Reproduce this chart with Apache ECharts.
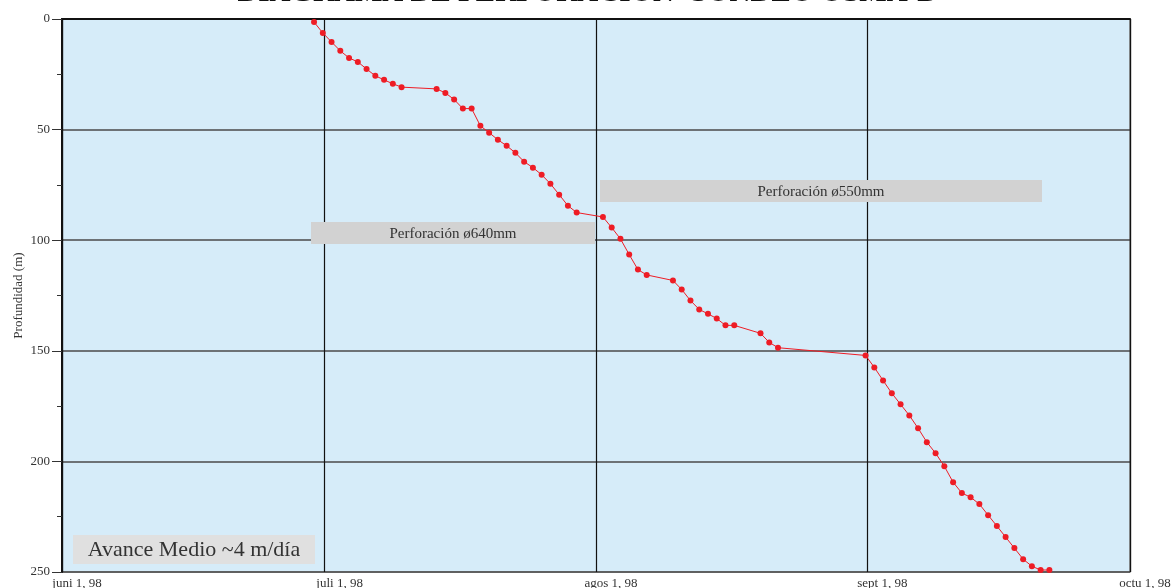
<!DOCTYPE html>
<html>
<head>
<meta charset="utf-8">
<title>Diagrama de perforación - Sondeo OSMA-B</title>
<script src="https://cdn.jsdelivr.net/npm/echarts@6/dist/echarts.min.js"></script>
<style>
  html, body { margin: 0; padding: 0; background: #ffffff; }
  #chart { width: 1174px; height: 588px; }
</style>
</head>
<body>
<div id="chart"></div>
<script>
// Drilling progress of borehole OSMA-B (depth in metres per day)
const fechas = [
  '1998-06-29', '1998-06-30', '1998-07-01', '1998-07-02', '1998-07-03', '1998-07-04',
  '1998-07-05', '1998-07-06', '1998-07-07', '1998-07-08', '1998-07-09', '1998-07-13',
  '1998-07-14', '1998-07-15', '1998-07-16', '1998-07-17', '1998-07-18', '1998-07-19',
  '1998-07-20', '1998-07-21', '1998-07-22', '1998-07-23', '1998-07-24', '1998-07-25',
  '1998-07-26', '1998-07-27', '1998-07-28', '1998-07-29', '1998-08-01', '1998-08-02',
  '1998-08-03', '1998-08-04', '1998-08-05', '1998-08-06', '1998-08-09', '1998-08-10',
  '1998-08-11', '1998-08-12', '1998-08-13', '1998-08-14', '1998-08-15', '1998-08-16',
  '1998-08-19', '1998-08-20', '1998-08-21', '1998-08-31', '1998-09-01', '1998-09-02',
  '1998-09-03', '1998-09-04', '1998-09-05', '1998-09-06', '1998-09-07', '1998-09-08',
  '1998-09-09', '1998-09-10', '1998-09-11', '1998-09-12', '1998-09-13', '1998-09-14',
  '1998-09-15', '1998-09-16', '1998-09-17', '1998-09-18', '1998-09-19', '1998-09-20',
  '1998-09-21'
];
// time of day at which each daily reading was taken
const horaLectura = '19:00';

const profundidad = [
  1.4, 6.3, 10.4, 14.4, 17.6, 19.4,
  22.6, 25.7, 27.5, 29.3, 30.8, 31.6,
  33.4, 36.4, 40.5, 40.5, 48.3, 51.4,
  54.6, 57.3, 60.5, 64.5, 67.2, 70.4,
  74.5, 79.4, 84.4, 87.5, 89.5, 94.3,
  99.4, 106.5, 113.3, 115.7, 118.2, 122.3,
  127.3, 131.3, 133.3, 135.4, 138.5, 138.5,
  142.1, 146.2, 148.6, 152.1, 157.5, 163.4,
  169.2, 174.2, 179.2, 185.0, 191.3, 196.3,
  202.2, 209.4, 214.3, 216.2, 219.3, 224.3,
  229.2, 234.2, 239.2, 244.2, 247.4, 249.1,
  249.1
];

// month tick labels on the time axis (index = month number)
const etiquetasMes = {5: 'juni 1, 98', 6: 'juli 1, 98', 7: 'agos 1, 98', 8: 'sept 1, 98', 9: 'octu 1, 98'};
const ejeInicio = '1998-06-01';
const ejeFin = '1998-10-01';

const titulo = 'DIAGRAMA DE PERFORACIÓN- SONDEO OSMA-B';
const tituloEjeY = 'Profundidad (m)';
const notaAvance = 'Avance Medio ~4 m/día';
const tramos = ['Perforación ø640mm', 'Perforación ø550mm'];

const serif = "'Liberation Serif', 'Times New Roman', 'DejaVu Serif', serif";
const DAY = 86400000;

const puntos = fechas.map((f, i) => [f + ' ' + horaLectura, profundidad[i]]);

function caja(x, y, w, h, texto, fill, size) {
  return {
    type: 'group',
    children: [
      { type: 'rect', shape: { x: x, y: y, width: w, height: h }, style: { fill: fill }, z: 10 },
      {
        type: 'text', x: x + w / 2, y: y + h / 2 + 1, z: 11,
        style: { text: texto, fill: '#333333', font: size + 'px ' + serif, textAlign: 'center', textVerticalAlign: 'middle' }
      }
    ]
  };
}

const chart = echarts.init(document.getElementById('chart'), null, { renderer: 'canvas' });

chart.setOption({
  backgroundColor: '#ffffff',
  animation: false,
  title: {
    text: titulo,
    left: 'center',
    top: -26,
    textStyle: { fontFamily: serif, fontWeight: 'bold', fontSize: 29, color: '#111111' }
  },
  grid: {
    left: 62, right: 44, top: 19, bottom: 16,
    outerBoundsMode: 'none',
    containLabel: false,
    show: true,
    backgroundColor: '#D6ECF9',
    borderColor: '#8a8a8a',
    borderWidth: 1.5
  },
  xAxis: {
    type: 'time',
    min: ejeInicio,
    max: ejeFin,
    minInterval: 28 * DAY,
    maxInterval: 31 * DAY,
    axisLine: { show: true, lineStyle: { color: '#111111', width: 2 } },
    axisTick: { show: true, inside: false, length: 11, lineStyle: { color: '#111111', width: 1 } },
    axisLabel: {
      show: true,
      margin: 5,
      fontFamily: serif,
      fontSize: 13,
      color: '#333333',
      align: 'center',
      padding: [0, 0, 0, 30],
      showMinLabel: true,
      showMaxLabel: true,
      hideOverlap: false,
      formatter: function (v) {
        const d = new Date(v);
        return etiquetasMes[d.getMonth()] || '';
      }
    },
    splitLine: { show: true, lineStyle: { color: '#111111', width: 1.2 } },
    minorTick: { show: false }
  },
  yAxis: {
    type: 'value',
    inverse: true,
    min: 0,
    max: 250,
    interval: 50,
    name: tituloEjeY,
    nameLocation: 'middle',
    nameGap: 37,
    nameMoveOverlap: false,
    nameRotate: 90,
    nameTextStyle: { fontFamily: serif, fontSize: 13, color: '#333333' },
    axisLine: { show: true, lineStyle: { color: '#111111', width: 2 } },
    axisTick: { show: true, inside: false, length: 10, lineStyle: { color: '#333333', width: 1 } },
    minorTick: { show: true, splitNumber: 2, length: 5, lineStyle: { color: '#333333', width: 1 } },
    axisLabel: { margin: 12, fontFamily: serif, fontSize: 13, color: '#333333' },
    splitLine: { show: true, lineStyle: { color: '#4a4a4a', width: 1.5 } }
  },
  series: [{
    type: 'line',
    data: puntos,
    symbol: 'circle',
    symbolSize: 6,
    showAllSymbol: true,
    lineStyle: { color: '#EE1C25', width: 1 },
    itemStyle: { color: '#EE1C25' },
    z: 5,
    markLine: {
      silent: true,
      symbol: 'none',
      label: { show: false },
      lineStyle: { color: '#111111', width: 1.2, type: 'solid' },
      data: [{ xAxis: ejeFin }]
    }
  }],
  graphic: [
    caja(311, 222, 284, 22, tramos[0], '#D2D2D2', 15),
    caja(600, 180, 442, 22, tramos[1], '#D2D2D2', 15),
    caja(73, 535, 242, 29, notaAvance, '#E0E0E0', 22)
  ]
});
</script>
</body>
</html>
